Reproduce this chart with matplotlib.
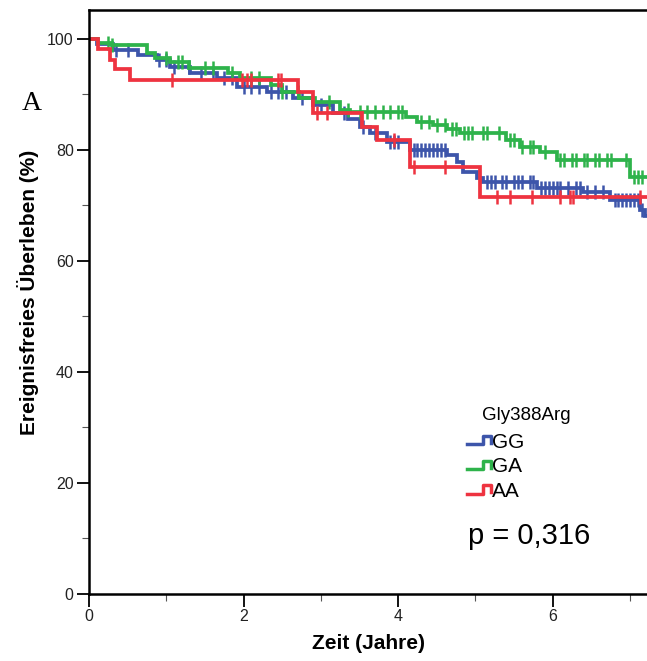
import numpy as np
import matplotlib.pyplot as plt

# Kaplan-Meier Stufen (Zeit in Jahren, Ueberleben in %)
gg_t = [0, 0.10, 0.31, 0.63, 0.88, 1.05, 1.31, 1.66, 1.91, 2.30, 2.64, 2.90, 3.16,
        3.35, 3.50, 3.63, 3.85, 4.15, 4.63, 4.76, 4.84, 5.02, 5.10, 5.80, 6.39,
        6.74, 7.13, 7.19, 7.22]
gg_s = [100, 99.1, 98.0, 97.1, 96.2, 95.0, 93.9, 93.0, 91.4, 90.5, 89.4, 88.1, 86.7,
        85.5, 84.1, 83.0, 81.4, 80.0, 79.1, 77.9, 76.0, 74.9, 74.2, 73.2, 72.5,
        71.0, 69.2, 68.0, 68.0]

ga_t = [0, 0.12, 0.30, 0.75, 0.85, 1.05, 1.30, 1.80, 1.95, 2.35, 2.50, 2.72, 2.92,
        3.25, 3.38, 4.10, 4.24, 4.45, 4.63, 4.80, 5.40, 5.58, 5.83, 6.05, 7.00, 7.22]
ga_s = [100, 99.3, 98.9, 97.5, 96.6, 95.9, 94.8, 93.9, 93.0, 91.7, 90.5, 89.4, 88.6,
        87.2, 86.9, 86.0, 85.0, 84.5, 83.8, 83.1, 81.8, 80.5, 79.6, 78.2, 75.1, 75.1]

aa_t = [0, 0.12, 0.27, 0.34, 0.53, 2.70, 2.90, 3.53, 3.72, 4.15, 5.06, 7.22]
aa_s = [100, 98.1, 96.2, 94.6, 92.6, 90.4, 86.7, 84.1, 81.8, 76.9, 71.5, 71.5]

# zensierte Faelle
gg_cens = [0.35, 0.5, 0.9, 1.0, 1.1, 1.3, 1.45, 1.6, 1.75, 1.85, 2.0, 2.1, 2.2, 2.35,
           2.45, 2.55, 2.75, 3.0, 3.3, 3.55, 3.7, 3.9, 3.95, 4.0, 4.2, 4.25, 4.3, 4.35,
           4.4, 4.45, 4.5, 4.55, 4.6, 5.15, 5.2, 5.25, 5.35, 5.4, 5.5, 5.55, 5.6, 5.7,
           5.75, 5.85, 5.9, 5.95, 6.0, 6.05, 6.1, 6.2, 6.3, 6.35, 6.45, 6.55, 6.65,
           6.8, 6.85, 6.9, 6.95, 7.0, 7.05, 7.1, 7.15]
ga_cens = [0.25, 0.3, 1.0, 1.15, 1.2, 1.5, 1.6, 1.85, 2.1, 2.2, 2.5, 2.7, 3.1, 3.35,
           3.5, 3.6, 3.7, 3.8, 3.9, 4.0, 4.05, 4.3, 4.4, 4.5, 4.6, 4.7, 4.75, 4.85,
           4.9, 4.95, 5.1, 5.15, 5.3, 5.45, 5.5, 5.6, 5.7, 5.75, 5.9, 6.1, 6.15, 6.25,
           6.3, 6.4, 6.45, 6.55, 6.6, 6.7, 6.75, 6.95, 7.05, 7.1, 7.15]
aa_cens = [1.07, 1.98, 2.05, 2.10, 2.44, 2.48, 2.95, 3.08, 3.95, 4.2, 4.6, 5.28,
           5.45, 5.73, 6.09, 6.22, 6.26, 7.13]

gruppen = ['GG', 'GA', 'AA']
farben = ['#3d55aa', '#2eb34b', '#ee3340']
p_wert = 'p = 0,316'

plt.rcParams['font.family'] = ['Liberation Sans', 'DejaVu Sans']

fig = plt.figure(figsize=(6.47, 6.61), dpi=100)
ax = fig.add_axes([0.1376, 0.1014, 0.8624, 0.8835])

daten = [(gg_t, gg_s, gg_cens), (ga_t, ga_s, ga_cens), (aa_t, aa_s, aa_cens)]
for (t, s, c), col in zip(daten, farben):
    t = np.array(t); s = np.array(s); c = np.array(c)
    ax.step(t, s, where='post', color=col, lw=2.7, solid_joinstyle='miter')
    idx = np.searchsorted(t, c, side='right') - 1
    ax.plot(c, s[idx], ls='none', marker='|', ms=10, mew=1.8, color=col)

ax.set_xlim(0, 7.22)
ax.set_ylim(0, 105.2)
ax.spines['right'].set_visible(False)
for sp in ['left', 'bottom', 'top']:
    ax.spines[sp].set_linewidth(1.8)

ax.set_xticks([0, 2, 4, 6])
ax.set_xticks([1, 3, 5, 7], minor=True)
ax.set_yticks([0, 20, 40, 60, 80, 100])
ax.set_yticks([10, 30, 50, 70, 90], minor=True)
ax.tick_params(which='major', direction='out', length=9, width=1.3,
               labelsize=11.5, labelcolor='#222222', pad=2)
ax.tick_params(which='minor', direction='out', length=5, width=0.8, color='#555555')

ax.set_xlabel('Zeit (Jahre)', fontsize=15, fontweight='bold', labelpad=7)
ax.set_ylabel('Ereignisfreies Überleben (%)', fontsize=15, fontweight='bold', labelpad=6)
ax.yaxis.label.set_y(0.517)

fig.text(0.034, 0.834, 'A', fontsize=20, family='Liberation Serif', ha='left', va='baseline')

# Legende mit Stufen-Symbolen
ax.text(0.705, 0.305, 'Gly388Arg', transform=ax.transAxes, fontsize=13.5, va='center')
for i, (g, col) in enumerate(zip(gruppen, farben)):
    y0 = 0.262 - i * 0.0425
    hx = [0.678, 0.706, 0.706, 0.721, 0.721]
    hy = [y0 - 0.006, y0 - 0.006, y0 + 0.009, y0 + 0.009, y0 - 0.003]
    ax.plot(hx, hy, transform=ax.transAxes, color=col, lw=2.5, clip_on=False)
    ax.text(0.722, y0 - 0.002, g, transform=ax.transAxes, fontsize=15, va='center')

ax.text(0.679, 0.10, p_wert, transform=ax.transAxes, fontsize=21, va='center')

fig.savefig('out.png', dpi=100)
